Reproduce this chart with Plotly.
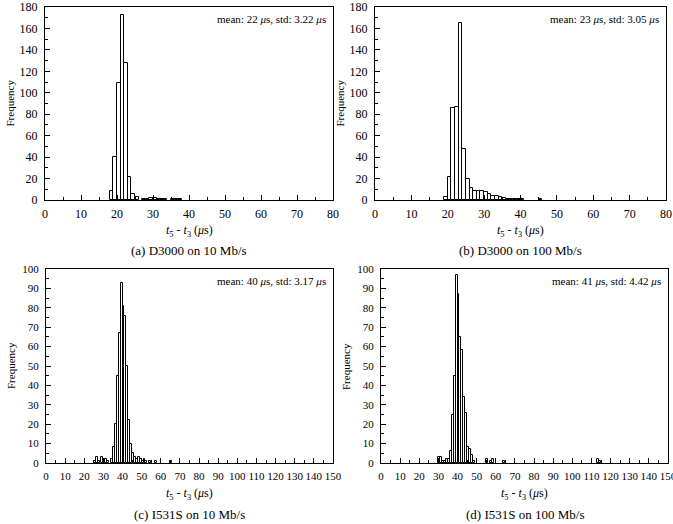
import plotly.graph_objects as go

# ---- data: histogram bins (left edge, 1 µs wide) and frequencies ----
bins_a = [18, 19, 20, 21, 22, 23, 24, 25, 27, 28, 29, 30, 31, 32, 33, 35, 36, 37]
freq_a = [8, 40, 109, 173, 128, 21, 6, 3, 1, 1, 2, 2, 1, 1, 1, 1, 1, 1]

bins_b = [19, 20, 21, 22, 23, 24, 25, 26, 27, 28, 29, 30, 31, 32, 33, 34, 35, 36, 37, 38, 39, 40, 45]
freq_b = [3, 21, 86, 87, 165, 48, 20, 11, 8, 8, 8, 7, 6, 4, 4, 3, 2, 1, 1, 1, 1, 1, 1]

bins_c = [25, 26, 27, 29, 30, 31, 32, 34, 35, 36, 37, 38, 39, 40, 41, 42, 43, 44, 45, 46,
          47, 48, 49, 50, 51, 52, 54, 57, 65]
freq_c = [1, 3, 1, 3, 2, 2, 1, 2, 8, 20, 45, 67, 93, 81, 76, 50, 22, 10, 5, 3,
          2, 3, 2, 1, 2, 1, 1, 1, 1]

bins_d = [30, 31, 32, 33, 34, 35, 36, 37, 38, 39, 40, 41, 42, 43, 44, 45, 46, 47, 48,
          55, 57, 58, 64, 113, 114]
freq_d = [3, 3, 1, 1, 2, 2, 6, 25, 45, 97, 87, 65, 58, 34, 26, 8, 7, 4, 1,
          2, 1, 2, 1, 2, 1]

stats = ["mean: 22 <i>μ</i>s, std: 3.22 <i>μ</i>s",
         "mean: 23 <i>μ</i>s, std: 3.05 <i>μ</i>s",
         "mean: 40 <i>μ</i>s, std: 3.17 <i>μ</i>s",
         "mean: 41 <i>μ</i>s, std: 4.42 <i>μ</i>s"]
captions = ["(a) D3000 on 10 Mb/s", "(b) D3000 on 100 Mb/s",
            "(c) I531S on 10 Mb/s", "(d) I531S on 100 Mb/s"]
xtitle = "<i>t</i><sub>5</sub> - <i>t</i><sub>3</sub> (<i>μ</i>s)"

W, H = 673, 524
FONT = "Liberation Serif, Times New Roman, serif"

# panel pixel boxes: (left, right, top, bottom)
boxes = [(45, 333, 7, 200), (375, 666, 7, 200), (46, 333, 269, 463), (381, 668, 269, 463)]
xranges = [[0, 80], [0, 80], [0, 150], [0, 150]]
yranges = [[0, 180], [0, 180], [0, 100], [0, 100]]
ydticks = [20, 20, 10, 10]
xfont = [12, 12, 11, 11]
data = [(bins_a, freq_a), (bins_b, freq_b), (bins_c, freq_c), (bins_d, freq_d)]

fig = go.Figure()
for i, ((l, r, t, b), (bins, freq)) in enumerate(zip(boxes, data)):
    n = "" if i == 0 else str(i + 1)
    fig.add_trace(go.Bar(
        x=[v + 0.5 for v in bins], y=freq, width=1,
        marker=dict(color="white", line=dict(color="black", width=1)),
        xaxis="x" + n, yaxis="y" + n, showlegend=False))
    ax = dict(domain=[l / W, r / W], range=xranges[i], dtick=10, tick0=0,
              ticks="inside", ticklen=5, tickcolor="black", showline=True,
              linecolor="black", linewidth=1, mirror=True, showgrid=False,
              zeroline=False, anchor="y" + n, automargin=False, tickangle=0,
              ticklabeloverflow="allow", ticklabelstandoff=3,
              minor=dict(dtick=5, ticks="inside", ticklen=3, tickcolor="black"),
              tickfont=dict(family=FONT, size=xfont[i], color="black"))
    ay = dict(domain=[1 - b / H, 1 - t / H], range=yranges[i], dtick=ydticks[i], tick0=0,
              ticks="inside", ticklen=5, tickcolor="black", showline=True,
              linecolor="black", linewidth=1, mirror=True, showgrid=False,
              zeroline=False, anchor="x" + n, automargin=False,
              ticklabeloverflow="allow", ticklabelstandoff=4,
              minor=dict(dtick=ydticks[i] / 2, ticks="inside", ticklen=3, tickcolor="black"),
              tickfont=dict(family=FONT, size=xfont[i], color="black"))
    fig.layout["xaxis" + n] = ax
    fig.layout["yaxis" + n] = ay
    cx = (l + r) / 2 / W
    fig.add_annotation(x=(l - 35) / W, y=1 - (t + b) / 2 / H, xref="paper", yref="paper",
                       text="Frequency", textangle=-90, showarrow=False,
                       xanchor="center", yanchor="middle",
                       font=dict(family=FONT, size=11, color="black"))
    fig.add_annotation(x=(r - 5) / W, y=1 - (t + 12) / H, xref="paper", yref="paper",
                       text=stats[i], showarrow=False, xanchor="right", yanchor="middle",
                       font=dict(family=FONT, size=11, color="black"))
    fig.add_annotation(x=cx, y=1 - (b + 31) / H, xref="paper", yref="paper",
                       text=xtitle, showarrow=False, xanchor="center", yanchor="middle",
                       font=dict(family=FONT, size=12, color="black"))
    fig.add_annotation(x=cx, y=1 - (b + 51) / H, xref="paper", yref="paper",
                       text=captions[i], showarrow=False, xanchor="center", yanchor="middle",
                       font=dict(family=FONT, size=13, color="black"))

fig.update_layout(width=W, height=H, margin=dict(l=0, r=0, t=0, b=0),
                  paper_bgcolor="white", plot_bgcolor="white", bargap=0,
                  font=dict(family=FONT, color="black"))
fig.write_html("out.html", config={"displayModeBar": False},
               post_script="document.body.style.margin='0px';document.body.style.overflow='hidden';")
